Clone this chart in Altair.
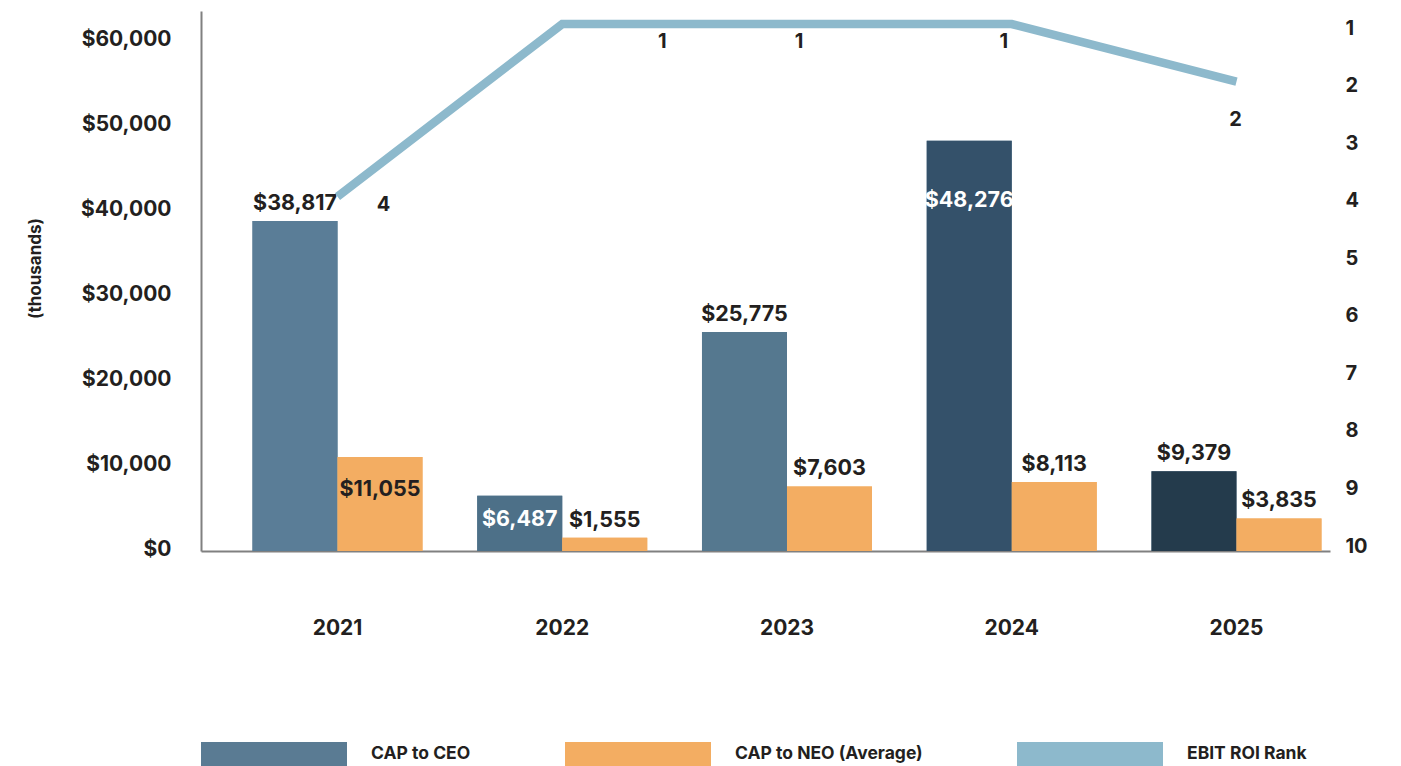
import altair as alt
import pandas as pd

# ---------------- data ----------------
years = ["2021", "2022", "2023", "2024", "2025"]
cap_ceo = [38817, 6487, 25775, 48276, 9379]
cap_neo = [11055, 1555, 7603, 8113, 3835]
ebit_roi_rank = [4, 1, 1, 1, 2]
series_names = ["CAP to CEO", "CAP to NEO (Average)", "EBIT ROI Rank"]
usd_ticks = [0, 10000, 20000, 30000, 40000, 50000, 60000]
rank_ticks = [1, 2, 3, 4, 5, 6, 7, 8, 9, 10]

CEO, NEO, RANK = series_names

bars = pd.DataFrame({
    "year": years * 2,
    "series": [CEO] * len(years) + [NEO] * len(years),
    "value": cap_ceo + cap_neo,
})
ranks = pd.DataFrame({"year": years, "rank": ebit_roi_rank})

# ---------------- style ----------------
FONT = "Inter"
TXT = "#231f20"
AXIS_GREY = "#808080"
series_colors = ["#5a7b93", "#f3ad62", "#8db9cc"]
# average tone of the textured fill of each bar
shade_keys = [f"{y} {CEO}" for y in years] + [f"{y} {NEO}" for y in years]
shade_colors = ["#5a7d97", "#4d7088", "#55788f", "#34516a", "#243b4c",
                "#f3ad62", "#f3ad62", "#f3ad62", "#f3ad62", "#f3ad62"]

# value labels: (series, year) -> (dy, colour); default is above the bar
label_style = {
    (NEO, "2021"): (33, TXT),
    (CEO, "2022"): (24, "#ffffff"),
    (CEO, "2024"): (60, "#ffffff"),
}
# rank labels offsets per year (dx, dy)
rank_label_offset = {
    "2021": (46, 8),
    "2022": (100, 18),
    "2023": (12, 18),
    "2024": (-8, 18),
    "2025": (-1, 38),
}

x_scale = alt.Scale(domain=years, paddingInner=0.2436, paddingOuter=0.1335, align=0.858)
x_axis = alt.Axis(title=None, domainColor=AXIS_GREY, domainWidth=2, ticks=False,
                  labelPadding=66, labelFontSize=21, labelFont=FONT,
                  labelFontWeight="bold", labelColor=TXT, labelAngle=0)
y_scale = alt.Scale(domain=[0, 63530], nice=False, zero=True)
y_axis = alt.Axis(values=usd_ticks, format="$,.0f", labelPadding=30, ticks=False,
                  domainColor=AXIS_GREY, domainWidth=2, grid=False,
                  labelFont=FONT, labelFontSize=21, labelFontWeight="bold",
                  labelColor=TXT, labelOffset=-2,
                  title="(thousands)", titleFont=FONT, titleFontSize=17,
                  titleFontWeight="bold", titleColor=TXT, titleX=-157, titleY=257,
                  titleBaseline="bottom", titleAngle=270)
offset_scale = alt.Scale(domain=[CEO, NEO])

legend = alt.Legend(
    title=None, orient="none", legendX=0, legendY=670, direction="horizontal",
    columns=3, symbolType="M-1,-0.164H1V0.164H-1Z", symbolSize=21316,
    symbolStrokeWidth=0, symbolOpacity=1, labelOffset=24, columnPadding=94,
    labelFont=FONT, labelFontSize=17.5, labelFontWeight="bold", labelColor=TXT,
    labelLimit=500, padding=0,
)

base = alt.Chart(bars).encode(
    x=alt.X("year:N", scale=x_scale, axis=x_axis),
    xOffset=alt.XOffset("series:N", scale=offset_scale),
    y=alt.Y("value:Q", scale=y_scale, axis=y_axis),
)

bar_legend = base.mark_bar().encode(
    color=alt.Color("series:N", scale=alt.Scale(domain=series_names, range=series_colors),
                    legend=legend)
)
bar_fill = base.mark_bar().transform_calculate(
    key="datum.year + ' ' + datum.series"
).encode(
    fill=alt.Fill("key:N", scale=alt.Scale(domain=shade_keys, range=shade_colors), legend=None)
)

label_layers = []
special = " || ".join(
    f"(datum.series == '{s}' && datum.year == '{y}')" for (s, y) in label_style
)
label_layers.append(
    base.transform_filter(f"!({special})").mark_text(
        font=FONT, fontSize=21.5, fontWeight="bold", color=TXT, dy=-17, baseline="middle"
    ).encode(text=alt.Text("value:Q", format="$,.0f"))
)
for (s, y), (dy, col) in label_style.items():
    label_layers.append(
        base.transform_filter(f"datum.series == '{s}' && datum.year == '{y}'").mark_text(
            font=FONT, fontSize=21.5, fontWeight="bold", color=col, dy=dy, baseline="middle"
        ).encode(text=alt.Text("value:Q", format="$,.0f"))
    )

bar_part = alt.layer(bar_legend, bar_fill, *label_layers)

rank_scale = alt.Scale(domain=[0.774, 10.156], reverse=True, nice=False, zero=False)
rank_axis = alt.Axis(values=rank_ticks, orient="right", labelPadding=15, domain=False,
                     ticks=False, grid=False, title=None, labelAlign="left",
                     labelOffset=4, labelFont=FONT, labelFontSize=20,
                     labelFontWeight="bold", labelColor=TXT)

rank_base = alt.Chart(ranks).encode(
    x=alt.X("year:N", scale=x_scale, axis=x_axis),
    y=alt.Y("rank:Q", scale=rank_scale, axis=rank_axis),
)
rank_line = rank_base.mark_line(color="#8db9cc", strokeWidth=8.5)
rank_labels = []
for y, (dx, dy) in rank_label_offset.items():
    rank_labels.append(
        rank_base.transform_filter(f"datum.year == '{y}'").mark_text(
            font=FONT, fontSize=20, fontWeight="bold", color=TXT, dx=dx, dy=dy,
            baseline="middle"
        ).encode(text="rank:Q")
    )
rank_part = alt.layer(rank_line, *rank_labels)

chart = alt.layer(bar_part, rank_part).resolve_scale(y="independent").properties(
    width=1129, height=540, autosize=alt.AutoSizeParams(type="none"),
    padding={"left": 193, "top": 3, "right": 60, "bottom": 215},
).configure_view(stroke=None).configure_axis(grid=False)

chart.save("out.html", embed_options={"renderer": "svg", "actions": False})
